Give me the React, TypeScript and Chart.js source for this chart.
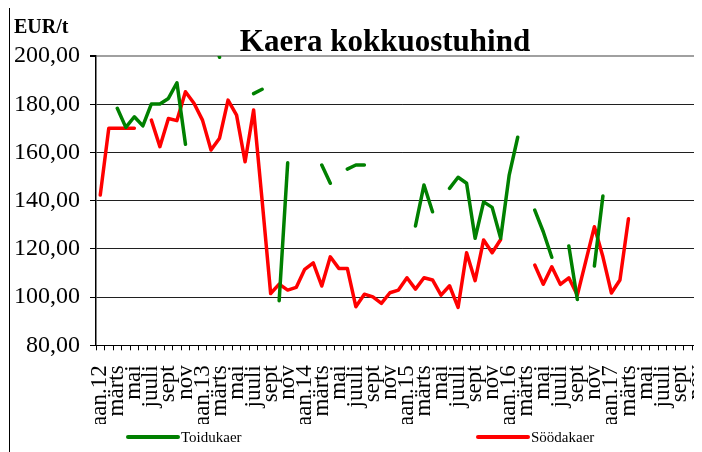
import { useEffect, useRef } from 'react';
import { Chart, registerables } from 'chart.js';

Chart.register(...registerables);

// Visible category labels (every second month, Jan 2012 – Nov 2017)
const TICK_LABELS = [
  'jaan.12', 'märts', 'mai', 'juuli', 'sept', 'nov',
  'jaan.13', 'märts', 'mai', 'juuli', 'sept', 'nov',
  'jaan.14', 'märts', 'mai', 'juuli', 'sept', 'nov',
  'jaan.15', 'märts', 'mai', 'juuli', 'sept', 'nov',
  'jaan.16', 'märts', 'mai', 'juuli', 'sept', 'nov',
  'jaan.17', 'märts', 'mai', 'juuli', 'sept', 'nov',
];

// Toidukaer (food oats), EUR/t, monthly
const TOIDUKAER: (number | null)[] = [
  null, null, 178.3, 170.4, 174.8, 171.0, 180.1, 180.1, 182.4, 188.9, 163.4, null,
  null, 212.0, 199.5, null, null, null, 184.4, 186.2, null, 98.5, 155.7, null,
  null, null, 154.8, 147.2, null, 153.1, 154.8, 154.8, null, null, null, null,
  null, 129.5, 146.5, 135.4, null, 145.1, 149.7, 147.2, 124.4, 139.5, 137.2, 124.4,
  150.6, 166.3, null, 136.1, 127.1, 116.5, null, 121.2, 99.0, null, 112.9, 141.9,
  null, null, null, null, null, null, null, null, null, null, null, null,
];

// Söödakaer (feed oats), EUR/t, monthly
const SOODAKAER: (number | null)[] = [
  142.3, 170.0, 170.0, 170.0, 170.0, null, 173.4, 162.4, 174.1, 173.2, 185.2, 180.4,
  173.4, 161.0, 165.9, 181.7, 175.5, 156.1, 177.6, 140.0, 101.5, 105.4, 102.9, 104.0,
  111.5, 114.2, 104.6, 116.7, 111.9, 111.9, 96.0, 101.2, 100.1, 97.4, 101.8, 102.9,
  108.0, 103.3, 108.0, 107.1, 100.8, 104.7, 95.7, 118.4, 106.8, 123.7, 118.4, 123.9,
  null, null, null, 113.3, 105.3, 112.6, 105.3, 108.0, 100.8, 115.0, 129.2, 116.7,
  101.7, 107.1, 132.5, null, null, null, null, null, null, null, null, null,
];

const Y_MIN = 80;
const Y_MAX = 200;
const Y_STEP = 20;

const TITLE = 'Kaera kokkuostuhind';
const UNIT = 'EUR/t';
const SERIES_NAMES = ['Toidukaer', 'Söödakaer'];
const SERIES_COLORS = ['#008000', '#ff0000'];

const OX = 10; // canvas left in page px
const OY = 8; // canvas top in page px
const W = 716;
const H = 444;
const SERIF = '"Liberation Serif", "Times New Roman", Times, serif';

export default function App() {
  const ref = useRef<HTMLCanvasElement>(null);

  useEffect(() => {
    document.documentElement.style.overflow = 'hidden';
    document.body.style.overflow = 'hidden';
    const canvas = ref.current;
    if (!canvas) return;

    const labels: string[] = [];
    for (let i = 0; i < TOIDUKAER.length; i++) {
      labels.push(i % 2 === 0 ? TICK_LABELS[i / 2] : '');
    }

    const deco = {
      id: 'deco',
      beforeDraw(chart: any) {
        const ctx = chart.ctx;
        ctx.save();
        ctx.beginPath();
        ctx.rect(0, 0, W, 424 - OY);
        ctx.clip();
      },
      afterDraw(chart: any) {
        const ctx = chart.ctx;
        ctx.restore();
        ctx.save();
        ctx.fillStyle = '#000';
        ctx.textBaseline = 'alphabetic';
        ctx.textAlign = 'center';
        ctx.font = `bold 31px ${SERIF}`;
        ctx.fillText(TITLE, 385 - OX, 51 - OY);
        ctx.textAlign = 'left';
        ctx.font = `bold 20px ${SERIF}`;
        ctx.fillText(UNIT, 14 - OX, 33 - OY);

        const legendX = [128, 478];
        ctx.font = `15px ${SERIF}`;
        ctx.textBaseline = 'middle';
        for (let k = 0; k < 2; k++) {
          const x0 = legendX[k] - OX;
          const y = 437 - OY;
          ctx.strokeStyle = SERIES_COLORS[k];
          ctx.lineWidth = 4;
          ctx.lineCap = 'round';
          ctx.beginPath();
          ctx.moveTo(x0, y);
          ctx.lineTo(x0 + 50, y);
          ctx.stroke();
          ctx.fillStyle = '#000';
          ctx.fillText(SERIES_NAMES[k], x0 + 53, y + 1);
        }
        ctx.restore();
      },
    };

    const chart = new Chart(canvas, {
      type: 'line',
      data: {
        labels,
        datasets: [
          {
            label: SERIES_NAMES[0],
            data: TOIDUKAER,
            borderColor: SERIES_COLORS[0],
            backgroundColor: SERIES_COLORS[0],
            borderWidth: 3.5,
            pointRadius: 0,
            spanGaps: false,
            borderJoinStyle: 'round',
            borderCapStyle: 'round',
          },
          {
            label: SERIES_NAMES[1],
            data: SOODAKAER,
            borderColor: SERIES_COLORS[1],
            backgroundColor: SERIES_COLORS[1],
            borderWidth: 3.5,
            pointRadius: 0,
            spanGaps: false,
            borderJoinStyle: 'round',
            borderCapStyle: 'round',
          },
        ],
      },
      options: {
        responsive: false,
        animation: false,
        events: [],
        layout: { padding: { top: 56 - OY, left: 0, right: W - (709.4 - OX), bottom: 0 } },
        plugins: {
          legend: { display: false },
          title: { display: false },
          tooltip: { enabled: false },
        },
        scales: {
          x: {
            type: 'category',
            offset: true,
            grid: {
              offset: true,
              drawOnChartArea: false,
              drawTicks: true,
              tickLength: 5,
              color: '#000',
              tickColor: '#000',
            },
            border: { display: true, color: '#000', width: 1 },
            ticks: {
              autoSkip: false,
              maxRotation: 90,
              minRotation: 90,
              padding: 15,
              color: '#000',
              font: { family: SERIF, size: 23 },
              callback: (_v: any, i: number) => labels[i],
            },
            afterFit: (s: any) => {
              s.height = H - (345.3 - OY);
              s.paddingLeft = 0;
              s.paddingRight = 0;
            },
          },
          y: {
            min: Y_MIN,
            max: Y_MAX,
            ticks: {
              stepSize: Y_STEP,
              padding: 10,
              color: '#000',
              font: { family: SERIF, size: 24 },
              callback: (v: any) => Number(v).toFixed(2).replace('.', ','),
            },
            grid: {
              color: (c: any) => (c.tick && c.tick.value === Y_MAX ? '#a0a0a0' : '#202020'),
              lineWidth: (c: any) => (c.tick && c.tick.value === Y_MAX ? 2 : 1),
              tickLength: 6,
              tickColor: '#000',
            },
            border: { display: true, color: '#000', width: 1.5 },
            afterFit: (s: any) => {
              s.width = 96 - OX;
              s.paddingTop = 0;
              s.paddingBottom = 0;
            },
          },
        },
      },
      plugins: [deco],
    } as any);

    return () => chart.destroy();
  }, []);

  return (
    <div
      style={{
        marginTop: -1,
        marginLeft: 1,
        width: 693,
        height: 445,
        overflow: 'hidden',
        borderLeft: '1px solid #000',
        borderTop: '1px solid #000',
        boxSizing: 'border-box',
        background: '#fff',
      }}
    >
      <canvas ref={ref} width={W} height={H} style={{ display: 'block', width: W, height: H }} />
    </div>
  );
}
